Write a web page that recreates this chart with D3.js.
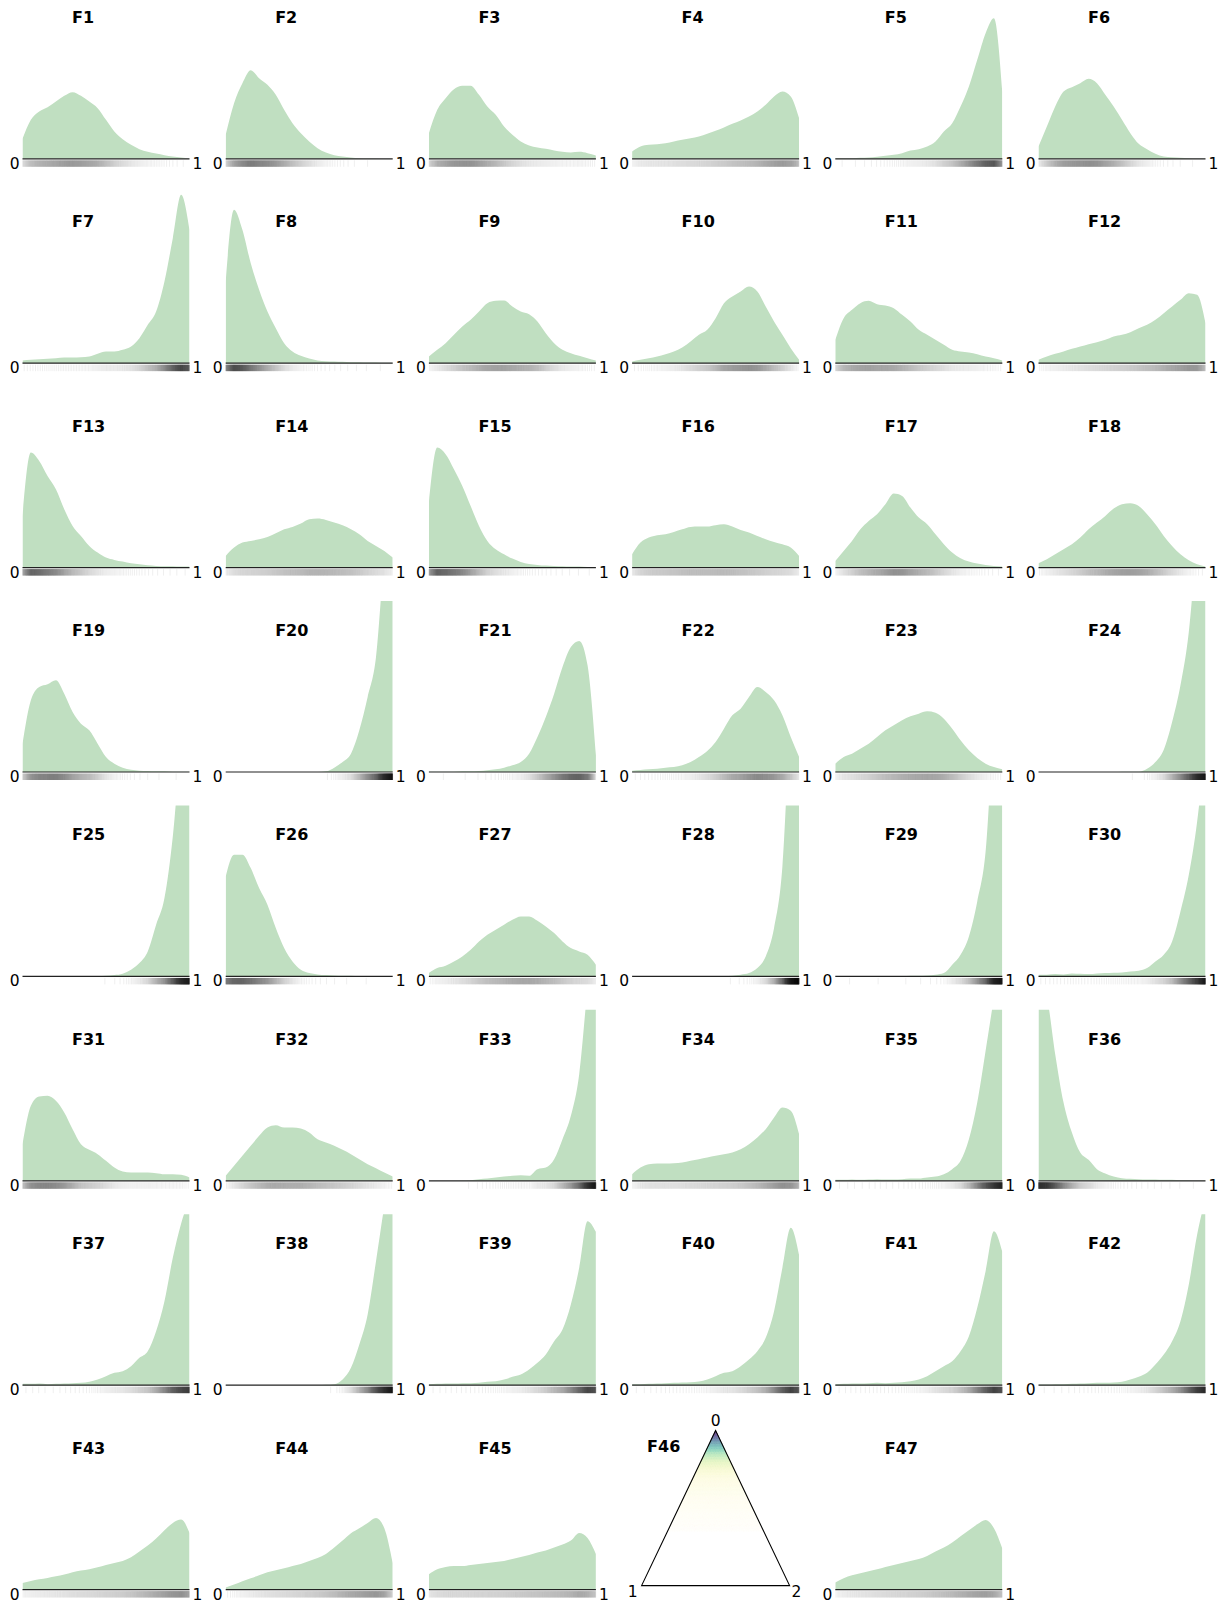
<!DOCTYPE html>
<html>
<head>
<meta charset="utf-8">
<script src="https://cdn.jsdelivr.net/npm/d3@7"></script>
<style>
  body { margin: 0; background: #fff; }
  svg text { font-family: "DejaVu Sans", sans-serif; fill: #000; }
</style>
</head>
<body>
<svg id="chart" width="1232" height="1604"></svg>
<script>
// sample grid of every density curve (x runs 0..1)
const xGrid = [0, 0.05, 0.1, 0.15, 0.2, 0.25, 0.3, 0.35, 0.4, 0.45, 0.5,
               0.55, 0.6, 0.65, 0.7, 0.75, 0.8, 0.85, 0.9, 0.95, 1];
const axisTicks = ['0', '1'];
const ternaryTicks = ['0', '1', '2'];

// density values, one array per feature
const dF1 = [0.60,1.17,1.42,1.55,1.72,1.89,2.00,1.89,1.72,1.52,1.17,0.82,0.59,0.42,0.29,0.21,0.16,0.11,0.07,0.04,0.01];
const dF2 = [0.72,1.67,2.27,2.66,2.42,2.22,1.92,1.47,1.07,0.77,0.52,0.32,0.19,0.11,0.07,0.04,0.02,0.01,0.01,0,0];
const dF3 = [0.77,1.47,1.82,2.09,2.19,2.19,1.92,1.57,1.32,0.97,0.72,0.52,0.40,0.34,0.30,0.25,0.21,0.19,0.21,0.17,0.10];
const dF4 = [0.22,0.37,0.42,0.44,0.47,0.52,0.57,0.62,0.67,0.75,0.84,0.94,1.05,1.15,1.27,1.42,1.62,1.87,2.02,1.87,1.22];
const dF5 = [0.02,0.02,0.02,0.03,0.04,0.06,0.09,0.12,0.17,0.25,0.29,0.37,0.52,0.82,1.07,1.57,2.17,2.97,3.77,4.22,2.0];
const dF6 = [0.37,0.97,1.57,2.02,2.15,2.27,2.40,2.27,1.92,1.57,1.17,0.77,0.45,0.29,0.15,0.07,0.05,0.03,0.02,0.01,0.01];
const dF7 = [0.08,0.10,0.12,0.13,0.15,0.17,0.17,0.18,0.20,0.28,0.35,0.35,0.40,0.50,0.75,1.15,1.55,2.45,3.75,5.05,4.0];
const dF8 = [2.45,4.6,4.0,3.0,2.2,1.55,1.05,0.60,0.35,0.22,0.14,0.08,0.06,0.05,0.04,0.03,0.03,0.02,0.02,0.01,0.01];
const dF9 = [0.20,0.40,0.60,0.85,1.10,1.30,1.55,1.80,1.87,1.88,1.70,1.55,1.47,1.25,0.90,0.60,0.40,0.30,0.22,0.15,0.08];
const dF10 = [0.05,0.10,0.15,0.20,0.27,0.35,0.47,0.65,0.85,1.00,1.35,1.80,2.00,2.15,2.30,2.15,1.70,1.25,0.85,0.45,0.10];
const dF11 = [0.70,1.35,1.60,1.80,1.87,1.77,1.73,1.65,1.45,1.25,1.00,0.85,0.70,0.55,0.40,0.35,0.32,0.27,0.20,0.15,0.08];
const dF12 = [0.10,0.20,0.28,0.35,0.43,0.50,0.57,0.63,0.70,0.80,0.85,0.93,1.05,1.15,1.30,1.50,1.70,1.90,2.10,2.05,1.20];
const dF13 = [1.55,3.45,3.20,2.75,2.35,1.75,1.25,0.95,0.65,0.45,0.30,0.23,0.18,0.13,0.10,0.07,0.05,0.04,0.04,0.03,0.03];
const dF14 = [0.35,0.60,0.75,0.80,0.85,0.92,1.03,1.15,1.22,1.32,1.45,1.47,1.43,1.35,1.27,1.15,1.00,0.80,0.65,0.50,0.30];
const dF15 = [1.95,3.60,3.40,2.95,2.45,1.85,1.25,0.80,0.55,0.40,0.27,0.17,0.11,0.08,0.06,0.05,0.04,0.03,0.03,0.02,0.02];
const dF16 = [0.40,0.75,0.90,0.97,1.00,1.07,1.15,1.22,1.23,1.23,1.27,1.30,1.23,1.13,1.05,0.95,0.85,0.77,0.70,0.60,0.35];
const dF17 = [0.20,0.50,0.80,1.15,1.40,1.60,1.90,2.22,2.15,1.80,1.50,1.30,1.00,0.70,0.45,0.28,0.18,0.12,0.08,0.05,0.03];
const dF18 = [0.13,0.25,0.40,0.55,0.70,0.90,1.15,1.35,1.55,1.77,1.90,1.93,1.85,1.60,1.30,0.95,0.65,0.40,0.22,0.10,0.03];
const dF19 = [0.85,2.15,2.55,2.63,2.75,2.35,1.80,1.45,1.25,0.85,0.45,0.25,0.13,0.07,0.04,0.03,0.02,0.02,0.01,0.01,0.01];
const dF20 = [0,0,0,0,0,0,0,0,0,0,0,0,0.02,0.13,0.30,0.55,1.25,2.25,3.45,6.5,8.5];
const dF21 = [0.01,0.01,0.01,0.01,0.02,0.02,0.03,0.05,0.08,0.13,0.20,0.30,0.55,1.05,1.65,2.35,3.15,3.75,3.93,3.2,0.5];
const dF22 = [0.04,0.06,0.08,0.10,0.13,0.15,0.20,0.30,0.45,0.63,0.90,1.30,1.70,1.90,2.25,2.55,2.40,2.15,1.70,1.05,0.45];
const dF23 = [0.25,0.45,0.55,0.70,0.85,1.05,1.25,1.40,1.55,1.67,1.75,1.82,1.78,1.60,1.30,0.95,0.65,0.42,0.25,0.15,0.08];
const dF24 = [0,0,0,0,0,0,0,0,0,0,0.01,0.01,0.01,0.10,0.30,0.67,1.50,2.60,4.20,7.0,9.0];
const dF25 = [0,0,0,0,0,0,0,0,0,0.01,0.02,0.04,0.08,0.20,0.40,0.75,1.55,2.35,4.2,7.0,8.5];
const dF26 = [3.0,3.65,3.65,3.25,2.65,2.15,1.45,0.85,0.45,0.20,0.10,0.06,0.04,0.03,0.02,0.02,0.01,0.01,0.01,0,0];
const dF27 = [0.10,0.25,0.32,0.45,0.60,0.80,1.05,1.25,1.40,1.55,1.70,1.80,1.80,1.67,1.50,1.30,1.05,0.85,0.75,0.65,0.35];
const dF28 = [0,0,0,0,0,0,0,0,0,0,0,0.01,0.02,0.05,0.10,0.25,0.60,1.45,3.3,8.0,10.0];
const dF29 = [0.01,0.01,0.01,0.01,0.01,0.01,0.01,0.01,0.01,0.02,0.02,0.03,0.05,0.10,0.35,0.65,1.20,2.25,3.75,7.5,9.0];
const dF30 = [0.05,0.05,0.07,0.06,0.09,0.08,0.07,0.09,0.10,0.11,0.12,0.15,0.17,0.25,0.45,0.65,1.05,1.95,3.05,4.65,7.0];
const dF31 = [1.10,2.25,2.53,2.55,2.40,2.05,1.55,1.10,0.93,0.80,0.60,0.40,0.28,0.25,0.25,0.25,0.23,0.20,0.20,0.18,0.10];
const dF32 = [0.15,0.45,0.75,1.05,1.35,1.60,1.67,1.60,1.60,1.57,1.45,1.25,1.15,1.05,0.93,0.80,0.65,0.50,0.38,0.25,0.13];
const dF33 = [0,0,0,0,0.01,0.02,0.05,0.07,0.10,0.13,0.15,0.17,0.15,0.35,0.40,0.65,1.25,1.95,3.2,5.8,8.0];
const dF34 = [0.20,0.40,0.50,0.52,0.52,0.53,0.55,0.60,0.65,0.70,0.75,0.80,0.85,0.95,1.10,1.30,1.55,1.90,2.20,2.10,1.40];
const dF35 = [0.03,0.03,0.04,0.03,0.04,0.05,0.04,0.04,0.05,0.07,0.07,0.10,0.13,0.20,0.35,0.60,1.25,2.35,3.9,5.5,7.0];
const dF36 = [6.0,5.5,3.8,2.35,1.45,0.85,0.63,0.35,0.22,0.13,0.08,0.06,0.05,0.04,0.04,0.03,0.03,0.02,0.02,0.01,0.01];
const dF37 = [0.04,0.04,0.05,0.03,0.04,0.05,0.06,0.07,0.10,0.17,0.27,0.37,0.42,0.57,0.82,1.02,1.62,2.52,3.82,4.85,5.6];
const dF38 = [0,0,0,0,0,0,0,0,0,0,0,0,0.01,0.03,0.17,0.52,1.22,2.12,3.72,5.4,7.0];
const dF39 = [0.03,0.04,0.05,0.05,0.06,0.06,0.07,0.10,0.12,0.17,0.25,0.32,0.47,0.67,0.92,1.32,1.67,2.42,3.52,4.92,4.6];
const dF40 = [0.03,0.03,0.04,0.05,0.06,0.07,0.08,0.09,0.11,0.17,0.27,0.37,0.42,0.57,0.77,1.02,1.42,2.22,3.52,4.72,3.9];
const dF41 = [0.03,0.04,0.05,0.05,0.06,0.07,0.06,0.07,0.09,0.12,0.17,0.27,0.42,0.57,0.72,1.02,1.47,2.32,3.42,4.62,4.0];
const dF42 = [0.02,0.02,0.03,0.03,0.04,0.05,0.06,0.07,0.07,0.08,0.10,0.17,0.25,0.37,0.62,0.92,1.32,1.92,3.02,4.52,5.6];
const dF43 = [0.20,0.26,0.31,0.35,0.40,0.45,0.52,0.57,0.61,0.67,0.74,0.80,0.86,0.97,1.14,1.32,1.53,1.78,2.00,2.10,1.70];
const dF44 = [0.06,0.15,0.25,0.34,0.43,0.52,0.58,0.64,0.71,0.77,0.86,0.95,1.07,1.26,1.47,1.69,1.84,2.00,2.15,1.84,0.80];
const dF45 = [0.46,0.61,0.68,0.71,0.71,0.74,0.77,0.80,0.83,0.86,0.92,0.98,1.04,1.11,1.17,1.26,1.35,1.47,1.70,1.55,1.07];
const dF47 = [0.21,0.34,0.43,0.49,0.55,0.61,0.68,0.74,0.80,0.86,0.92,1.01,1.14,1.26,1.41,1.60,1.78,1.96,2.09,1.84,1.23];

// F46 is a 3-class ternary density; profile along the share of class 0
const ternaryP0 = [0, 0.3, 0.4, 0.5, 0.6, 0.7, 0.75, 0.8, 0.85, 0.9, 0.95, 1.0];
const ternaryDensity = [0, 0, 0.02, 0.05, 0.12, 0.3, 0.6, 1.3, 2.6, 4.8, 7.5, 10];

const featureNames = ['F1','F2','F3','F4','F5','F6','F7','F8','F9','F10','F11','F12',
  'F13','F14','F15','F16','F17','F18','F19','F20','F21','F22','F23','F24',
  'F25','F26','F27','F28','F29','F30','F31','F32','F33','F34','F35','F36',
  'F37','F38','F39','F40','F41','F42','F43','F44','F45','F46','F47'];
const kdeSeries = [dF1,dF2,dF3,dF4,dF5,dF6,dF7,dF8,dF9,dF10,dF11,dF12,
  dF13,dF14,dF15,dF16,dF17,dF18,dF19,dF20,dF21,dF22,dF23,dF24,
  dF25,dF26,dF27,dF28,dF29,dF30,dF31,dF32,dF33,dF34,dF35,dF36,
  dF37,dF38,dF39,dF40,dF41,dF42,dF43,dF44,dF45,null,dF47];

// layout
const NCOL = 6;
const LEFT0 = 22.5, COL_STEP = 203.2, PLOT_W = 167;
const BASE0 = 158.8, ROW_STEP = 204.4, PLOT_H = 171;
const Y_MAX = 5.13;
const RUG_N = 600;
const FILL = '#c0dfc1';
const TICK_SIZE = 15.5, TITLE_SIZE = 16;

const svg = d3.select('#chart');
const defs = svg.append('defs');

// evenly spaced quantiles of the density, used to place the rug ticks
function rugPositions(vals) {
  const f = d3.scaleLinear().domain(xGrid).range(vals).clamp(true);
  const fine = d3.range(0, 801).map(i => i / 800);
  const cum = [0];
  for (let i = 1; i < fine.length; i++) {
    cum.push(cum[i - 1] + (Math.max(0, f(fine[i - 1])) + Math.max(0, f(fine[i]))) / 2);
  }
  const total = cum[cum.length - 1];
  const inv = d3.scaleLinear().domain(cum).range(fine);
  return d3.range(RUG_N).map(i => inv((i + 0.5) / RUG_N * total));
}

featureNames.forEach((name, i) => {
  const col = i % NCOL, row = Math.floor(i / NCOL);
  const left = LEFT0 + col * COL_STEP;
  const base = BASE0 + row * ROW_STEP;
  const g = svg.append('g').attr('class', 'panel');
  const vals = kdeSeries[i];

  if (!vals) {
    drawTernary(g, name, left, base);
    return;
  }

  const x = d3.scaleLinear().domain([0, 1]).range([left, left + PLOT_W]);
  const y = d3.scaleLinear().domain([0, Y_MAX]).range([base, base - PLOT_H]);

  const clipId = 'clip' + i;
  defs.append('clipPath').attr('id', clipId)
    .append('rect')
    .attr('x', x(0)).attr('y', y(Y_MAX))
    .attr('width', x(1) - x(0)).attr('height', y(0) - y(Y_MAX));

  const area = d3.area()
    .x((d, k) => x(xGrid[k]))
    .y0(y(0))
    .y1(d => y(d))
    .curve(d3.curveMonotoneX);

  g.append('path')
    .datum(vals)
    .attr('clip-path', `url(#${clipId})`)
    .attr('fill', FILL)
    .attr('d', area);

  // rug
  g.append('g')
    .selectAll('line')
    .data(rugPositions(vals))
    .join('line')
    .attr('x1', d => x(d)).attr('x2', d => x(d))
    .attr('y1', base + 1.5).attr('y2', base + 8)
    .attr('stroke', '#000')
    .attr('stroke-opacity', 0.065)
    .attr('stroke-width', 1);

  // baseline
  g.append('line')
    .attr('x1', x(0)).attr('x2', x(1))
    .attr('y1', base).attr('y2', base)
    .attr('stroke', '#222')
    .attr('stroke-width', 1.2);

  g.append('text')
    .attr('x', x(0) - 3).attr('y', base + 10)
    .attr('text-anchor', 'end')
    .attr('font-size', TICK_SIZE)
    .text(axisTicks[0]);
  g.append('text')
    .attr('x', x(1) + 3).attr('y', base + 10)
    .attr('text-anchor', 'start')
    .attr('font-size', TICK_SIZE)
    .text(axisTicks[1]);

  g.append('text')
    .attr('x', left + 49.5).attr('y', base - 136)
    .attr('font-size', TITLE_SIZE)
    .attr('font-weight', 'bold')
    .text(name);
});

function drawTernary(g, name, left, base) {
  // horizontal barycentric position, and share of class 0 (top vertex)
  const tx = d3.scaleLinear().domain([0, 1]).range([left + 9.5, left + 157.5]);
  const ty = d3.scaleLinear().domain([0, 1]).range([base - 4, base - 159]);
  const pt = (p0, p2) => [tx(p2 + p0 / 2), ty(p0)];
  const dens = d3.scaleLinear().domain(ternaryP0).range(ternaryDensity).clamp(true);
  const dMax = d3.max(ternaryDensity);

  const n = 60;
  const cells = [];
  for (let a = 0; a < n; a++) {
    for (let c = 0; c < n - a; c++) {
      cells.push([[a, c], [a + 1, c], [a, c + 1]]);
      if (c < n - a - 1) cells.push([[a + 1, c], [a + 1, c + 1], [a, c + 1]]);
    }
  }
  const heat = g.append('g');
  cells.forEach(cell => {
    const p0 = d3.mean(cell, v => v[0]) / n;
    const t = dens(p0) / dMax;
    if (t <= 0.001) return;
    const hue = d3.interpolateViridis(1 - t);
    const alpha = Math.min(1, 0.85 * Math.pow(t, 0.55));
    const col = d3.interpolateRgb('#ffffff', hue)(alpha);
    heat.append('polygon')
      .attr('points', cell.map(v => pt(v[0] / n, v[1] / n).join(',')).join(' '))
      .attr('fill', col)
      .attr('stroke', col)
      .attr('stroke-width', 0.6);
  });

  const verts = [pt(1, 0), pt(0, 0), pt(0, 1)];
  g.append('polygon')
    .attr('points', verts.map(v => v.join(',')).join(' '))
    .attr('fill', 'none')
    .attr('stroke', '#000')
    .attr('stroke-width', 1.1);

  g.append('text')
    .attr('x', verts[0][0]).attr('y', verts[0][1] - 5)
    .attr('text-anchor', 'middle').attr('font-size', TICK_SIZE)
    .text(ternaryTicks[0]);
  g.append('text')
    .attr('x', verts[1][0] - 4).attr('y', verts[1][1] + 11.5)
    .attr('text-anchor', 'end').attr('font-size', TICK_SIZE)
    .text(ternaryTicks[1]);
  g.append('text')
    .attr('x', verts[2][0] + 2).attr('y', verts[2][1] + 11.5)
    .attr('text-anchor', 'start').attr('font-size', TICK_SIZE)
    .text(ternaryTicks[2]);

  g.append('text')
    .attr('x', left + 15).attr('y', base - 138)
    .attr('font-size', TITLE_SIZE)
    .attr('font-weight', 'bold')
    .text(name);
}
</script>
</body>
</html>
